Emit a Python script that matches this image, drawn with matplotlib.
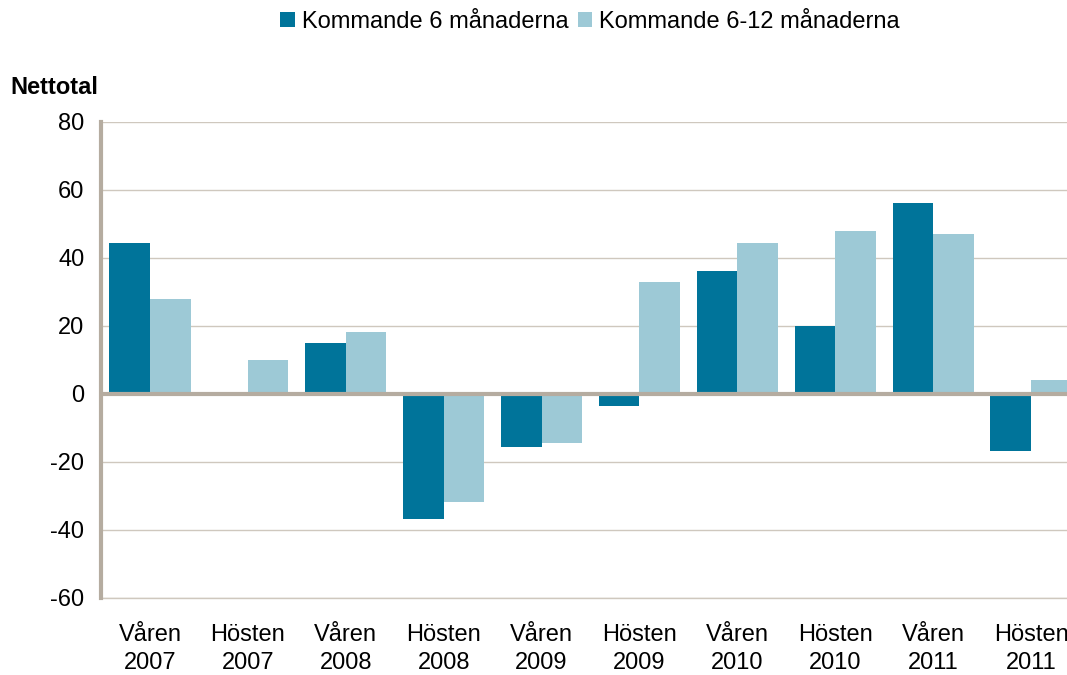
import numpy as np
import matplotlib.pyplot as plt

plt.rcParams['font.family'] = ['Liberation Sans', 'DejaVu Sans']
plt.rcParams['axes.unicode_minus'] = False

# data
kategorier = ['Våren\n2007', 'Hösten\n2007', 'Våren\n2008', 'Hösten\n2008', 'Våren\n2009',
              'Hösten\n2009', 'Våren\n2010', 'Hösten\n2010', 'Våren\n2011', 'Hösten\n2011']
kommande_6 = [44.4, 0, 15, -36.8, -15.6, -3.5, 36.2, 20, 56.2, -16.8]
kommande_6_12 = [27.9, 10, 18.2, -31.8, -14.4, 33, 44.4, 48, 47, 4.1]
serier = ['Kommande 6 månaderna', 'Kommande 6-12 månaderna']

dark = '#00749A'
light = '#9DC9D6'
axis_col = '#B5ACA0'
grid_col = '#CFC8BE'

fig = plt.figure(figsize=(10.67, 6.75), dpi=100)
ax = fig.add_axes([101 / 1067, 77 / 675, 979 / 1067, 476 / 675])

x = np.arange(len(kategorier))
w = 0.415
ax.bar(x - w / 2, kommande_6, w, color=dark, label=serier[0], zorder=2)
ax.bar(x + w / 2, kommande_6_12, w, color=light, label=serier[1], zorder=2)

ax.set_xlim(-0.5, len(kategorier) - 0.5)
ax.set_ylim(-60, 80)
ax.set_yticks(range(-60, 81, 20))
ax.grid(axis='y', color=grid_col, lw=1, zorder=0)
ax.axhline(-60, color=grid_col, lw=1, zorder=0, clip_on=False)
ax.axhline(0, color=axis_col, lw=3, zorder=3)

for s in ['top', 'right', 'bottom']:
    ax.spines[s].set_visible(False)
ax.spines['left'].set_color(axis_col)
ax.spines['left'].set_linewidth(3)

ax.set_xticks(x)
ax.set_xticklabels(kategorier, fontsize=17, linespacing=1.35)
ax.tick_params(axis='x', length=0, pad=19)
ax.tick_params(axis='y', length=0, pad=12, labelsize=17)

fig.text(10 / 1067, 1 - 87 / 675, 'Nettotal', fontsize=17, fontweight='bold', va='center')

fig.legend(loc='center', bbox_to_anchor=(590 / 1067, 1 - 22 / 675), ncol=2, frameon=False,
           fontsize=17, handlelength=0.6, handleheight=0.6, handletextpad=0.3, columnspacing=0.4)

fig.savefig('out.png', dpi=100)
